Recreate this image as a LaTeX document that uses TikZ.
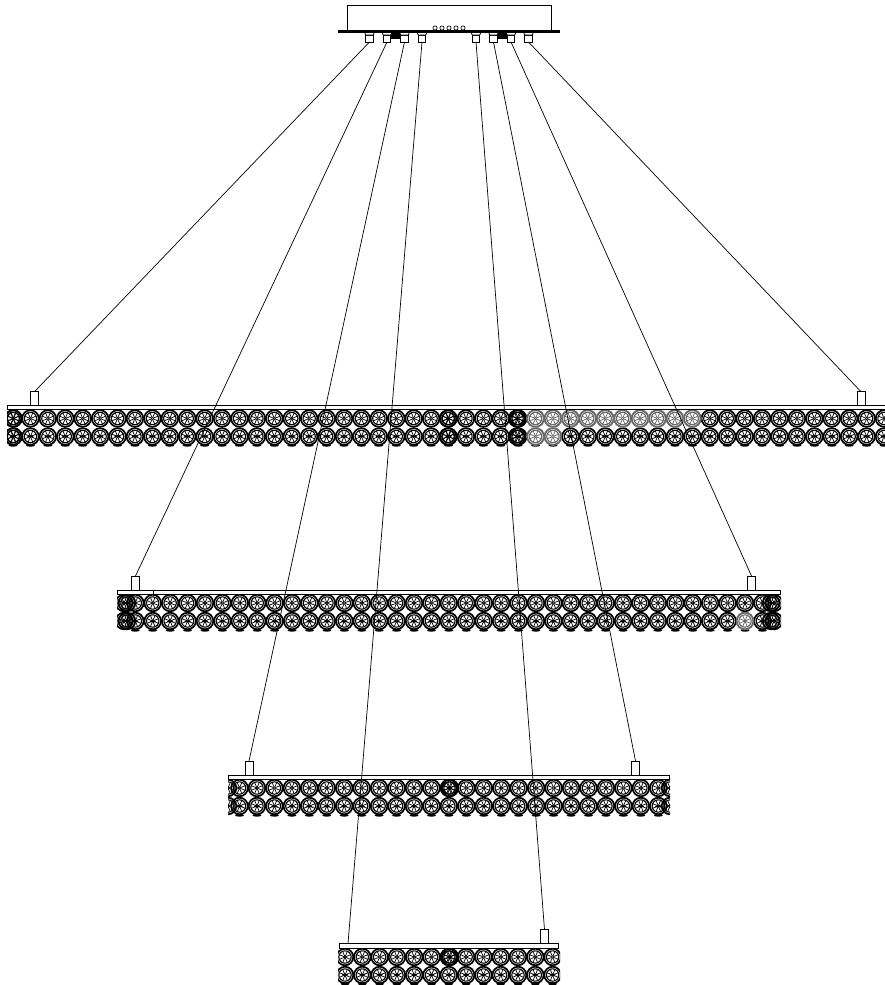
\documentclass[tikz,border=0pt]{standalone}
\tikzset{
  x=1pt,y=1pt,
  clamp/.style={draw=black,fill=white,line width=.8pt,minimum width=8pt,minimum height=14pt,inner sep=0pt,outer sep=0pt},
  topclamp/.style={draw=black,fill=white,line width=.8pt,minimum width=7.5pt,minimum height=7pt,inner sep=0pt,outer sep=0pt},
  bar/.style={draw=black,fill=white,line width=.8pt,inner sep=0pt,outer sep=0pt},
  cable/.style={draw=black,line width=.7pt},
  led/.style={draw=black,fill=white,line width=.7pt,circle,minimum size=4.2pt,inner sep=0pt}
}
% one crystal: x, y, colour
\newcommand{\crystal}[3]{%
  \begin{scope}[shift={(#1,#2)},draw=#3]
    \draw[line width=1.7pt] (0,0) circle (8.3);
    \draw[line width=1.1pt] (0,0) circle (6.2);
    \draw[line width=.6pt] (0,0) circle (1.1);
    \foreach \a in {0,45,...,315}{\draw[line width=.7pt] (\a+22.5:1.1) -- (\a+22.5:6.2);}
  \end{scope}}
\newcommand{\tierrow}[5]{%
  \foreach \k in {0,...,#3}{\crystal{#2+#4*\k}{#1}{#5}}}
% dark scallops under the lower row, and ticks between the two rows
\newcommand{\bumps}[4]{%
  \foreach \k in {0,...,#3}{\fill[black] (#2+#4*\k,#1+.2) ellipse (4.5 and 1.4);
    \fill[black] (#2+#4*\k,#1+9.2) ellipse (3.2 and 1);
    \fill[black] (#2+#4*\k+8.7,#1+9.2) ellipse (1.2 and 1.7);
    \fill[black] (#2+#4*\k+8.7,#1+27.2) ellipse (1.2 and 1.7);}}
\begin{document}
\begin{tikzpicture}
\useasboundingbox (0,0) rectangle (885,-985);
\fill[white] (0,0) rectangle (885,-985);

% --- tier 1
\begin{scope}
  \clip (7,-400) rectangle (885,-450);
  \bumps{-445.5}{-4.4}{51}{17.42}
  \tierrow{-418.5}{-4.4}{51}{17.42}{black}
  \tierrow{-436.5}{-4.4}{51}{17.42}{black}
  \foreach \xx/\yy in {13.6/-418.5,13.6/-436.5,448/-418.5,517/-418.5,517/-436.5,448/-436.5}{\crystal{\xx}{\yy}{black}}
  \foreach \xx in {535.5,552.9,570.3,587.7,605.2,622.6,640,657.4,674.9,692.3}{%
    \fill[white] (\xx,-418.5) circle (9.1);\crystal{\xx}{-418.5}{black!60}}
  \foreach \xx in {535.5,552.9}{%
    \fill[white] (\xx,-436.5) circle (9.1);\crystal{\xx}{-436.5}{black!60}}
\end{scope}
\node[bar,anchor=north west,minimum width=878pt,minimum height=3.5pt] (bar1) at (7,-405.7) {};
\node[clamp,anchor=south] (b1l) at (34.5,-405.7) {};
\node[clamp,anchor=south] (b1r) at (861,-405.7) {};

% --- tier 2
\begin{scope}
  \clip (117,-590) rectangle (781,-633);
  \bumps{-630.5}{135.3}{36}{17.42}
  \tierrow{-603}{135.3}{36}{17.42}{black}
  \tierrow{-621}{135.3}{36}{17.42}{black}
  \foreach \xx in {124,127,771,774}{\crystal{\xx}{-603}{black}\crystal{\xx}{-621}{black}}
  \fill[white] (745,-621) circle (9.1);\crystal{745}{-621}{black!60}
\end{scope}
\node[bar,anchor=north west,minimum width=663pt,minimum height=4.5pt] (bar2) at (117,-590) {};
\draw[line width=.8pt] (153,-590) -- (153,-594.5);
\node[clamp,anchor=south] (b2l) at (135.5,-590) {};
\node[clamp,anchor=south] (b2r) at (751.5,-590) {};

% --- tier 3
\begin{scope}
  \clip (228,-775) rectangle (670,-817);
  \bumps{-815.5}{239.5}{24}{17.45}
  \tierrow{-788}{239.5}{24}{17.45}{black}
  \tierrow{-806}{239.5}{24}{17.45}{black}
  \foreach \xx in {228,670}{\crystal{\xx}{-788}{black}\crystal{\xx}{-806}{black}}
  \crystal{450}{-788}{black}
\end{scope}
\node[bar,anchor=north west,minimum width=441pt,minimum height=4.5pt] (bar3) at (228.5,-775) {};
\node[clamp,anchor=south] (b3l) at (249,-775) {};
\node[clamp,anchor=south] (b3r) at (635.5,-775) {};

% --- tier 4
\begin{scope}
  \clip (338,-943) rectangle (560,-985);
  \bumps{-984}{345}{12}{17.3}
  \tierrow{-957}{345}{12}{17.3}{black}
  \tierrow{-975}{345}{12}{17.3}{black}
  \crystal{450}{-957}{black}
\end{scope}
\node[bar,anchor=north west,minimum width=219pt,minimum height=4.5pt] (bar4) at (339.5,-943.5) {};
\node[clamp,anchor=south] (b4r) at (544.5,-943.5) {};
\coordinate (b4l) at (348,-943.5);

% --- canopy
\node[bar,anchor=north west,minimum width=204pt,minimum height=26pt] (canopy) at (347,-5.5) {};
\foreach \i/\xx in {1/435,2/442,3/449,4/456,5/463}{\node[led] (led\i) at (\xx,-28) {};}
\fill[black] (391,-32) rectangle (400,-38.5);
\fill[black] (498,-32) rectangle (507,-38.5);
\foreach \n/\xx in {ta/369.5,tb/387,tc/404.5,td/422,te/476,tf/493.5,tg/511,th/528.5}{
  \node[topclamp] (\n) at (\xx,-38.5) {};
  \draw[line width=.8pt,fill=white] (\xx-5,-32) -- (\xx+5,-32) -- (\xx+3.8,-35) -- (\xx-3.8,-35) -- cycle;
}
\draw[line width=2.2pt] (338,-31.5) -- (560,-31.5);

% --- cables
\draw[cable] (ta.south) -- (b1l.north);
\draw[cable] (th.south) -- (b1r.north);
\draw[cable] (tb.south) -- (b2l.north);
\draw[cable] (tg.south) -- (b2r.north);
\draw[cable] (tc.south) -- (b3l.north);
\draw[cable] (tf.south) -- (b3r.north);
\draw[cable] (td.south) -- (b4l);
\draw[cable] (te.south) -- (b4r.north);
\end{tikzpicture}
\end{document}
